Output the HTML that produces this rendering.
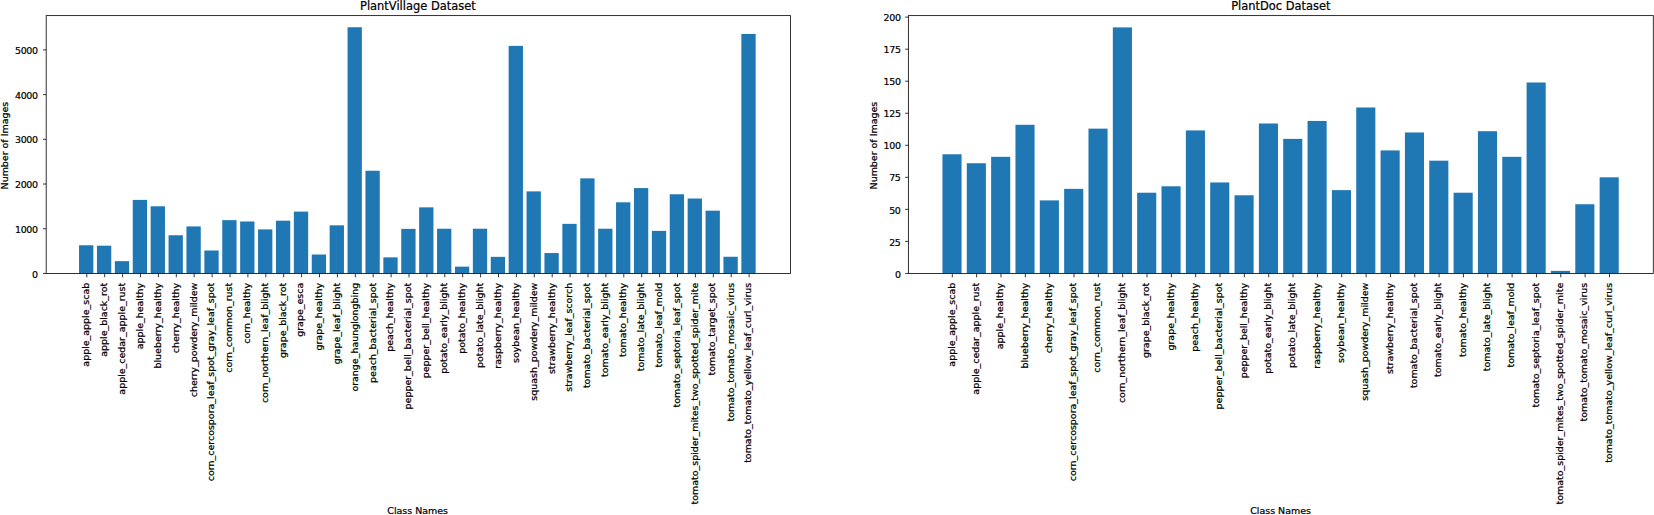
<!DOCTYPE html>
<html><head><meta charset="utf-8"><title>Dataset class distribution</title>
<style>
html,body{margin:0;padding:0;background:#fff;}
body{width:1654px;height:515px;overflow:hidden;}
svg{display:block;font-family:'DejaVu Sans','Liberation Sans',sans-serif;fill:#000;}
text{stroke:#000;stroke-width:0.22px;}
</style></head>
<body>
<svg width="1654" height="515" viewBox="0 0 1654 515">
<rect width="1654" height="515" fill="#fff"/>
<g>
<rect x="79.05" y="245.27" width="14.30" height="28.17" fill="#1f77b4"/>
<rect x="96.95" y="245.68" width="14.30" height="27.76" fill="#1f77b4"/>
<rect x="114.85" y="261.15" width="14.30" height="12.29" fill="#1f77b4"/>
<rect x="132.75" y="199.90" width="14.30" height="73.54" fill="#1f77b4"/>
<rect x="150.65" y="206.29" width="14.30" height="67.15" fill="#1f77b4"/>
<rect x="168.55" y="235.26" width="14.30" height="38.18" fill="#1f77b4"/>
<rect x="186.45" y="226.41" width="14.30" height="47.03" fill="#1f77b4"/>
<rect x="204.35" y="250.50" width="14.30" height="22.94" fill="#1f77b4"/>
<rect x="222.25" y="220.15" width="14.30" height="53.29" fill="#1f77b4"/>
<rect x="240.15" y="221.49" width="14.30" height="51.95" fill="#1f77b4"/>
<rect x="258.05" y="229.40" width="14.30" height="44.04" fill="#1f77b4"/>
<rect x="275.95" y="220.68" width="14.30" height="52.76" fill="#1f77b4"/>
<rect x="293.85" y="211.61" width="14.30" height="61.83" fill="#1f77b4"/>
<rect x="311.75" y="254.53" width="14.30" height="18.91" fill="#1f77b4"/>
<rect x="329.65" y="225.33" width="14.30" height="48.11" fill="#1f77b4"/>
<rect x="347.55" y="27.23" width="14.30" height="246.21" fill="#1f77b4"/>
<rect x="365.45" y="170.75" width="14.30" height="102.69" fill="#1f77b4"/>
<rect x="383.35" y="257.35" width="14.30" height="16.09" fill="#1f77b4"/>
<rect x="401.25" y="228.87" width="14.30" height="44.57" fill="#1f77b4"/>
<rect x="419.15" y="207.36" width="14.30" height="66.08" fill="#1f77b4"/>
<rect x="437.05" y="228.73" width="14.30" height="44.71" fill="#1f77b4"/>
<rect x="454.95" y="266.64" width="14.30" height="6.80" fill="#1f77b4"/>
<rect x="472.85" y="228.73" width="14.30" height="44.71" fill="#1f77b4"/>
<rect x="490.75" y="256.85" width="14.30" height="16.59" fill="#1f77b4"/>
<rect x="508.65" y="45.88" width="14.30" height="227.56" fill="#1f77b4"/>
<rect x="526.55" y="191.40" width="14.30" height="82.04" fill="#1f77b4"/>
<rect x="544.45" y="253.05" width="14.30" height="20.39" fill="#1f77b4"/>
<rect x="562.35" y="223.86" width="14.30" height="49.58" fill="#1f77b4"/>
<rect x="580.25" y="178.35" width="14.30" height="95.09" fill="#1f77b4"/>
<rect x="598.15" y="228.73" width="14.30" height="44.71" fill="#1f77b4"/>
<rect x="616.05" y="202.31" width="14.30" height="71.13" fill="#1f77b4"/>
<rect x="633.95" y="188.09" width="14.30" height="85.35" fill="#1f77b4"/>
<rect x="651.85" y="230.88" width="14.30" height="42.56" fill="#1f77b4"/>
<rect x="669.75" y="194.26" width="14.30" height="79.18" fill="#1f77b4"/>
<rect x="687.65" y="198.51" width="14.30" height="74.93" fill="#1f77b4"/>
<rect x="705.55" y="210.67" width="14.30" height="62.77" fill="#1f77b4"/>
<rect x="723.45" y="256.76" width="14.30" height="16.68" fill="#1f77b4"/>
<rect x="741.35" y="33.94" width="14.30" height="239.50" fill="#1f77b4"/>
<rect x="46.20" y="15.60" width="744.30" height="257.84" fill="none" stroke="#111" stroke-width="0.85"/>
<path d="M86.80 273.44v3.9M104.70 273.44v3.9M122.60 273.44v3.9M140.50 273.44v3.9M158.40 273.44v3.9M176.30 273.44v3.9M194.20 273.44v3.9M212.10 273.44v3.9M230.00 273.44v3.9M247.90 273.44v3.9M265.80 273.44v3.9M283.70 273.44v3.9M301.60 273.44v3.9M319.50 273.44v3.9M337.40 273.44v3.9M355.30 273.44v3.9M373.20 273.44v3.9M391.10 273.44v3.9M409.00 273.44v3.9M426.90 273.44v3.9M444.80 273.44v3.9M462.70 273.44v3.9M480.60 273.44v3.9M498.50 273.44v3.9M516.40 273.44v3.9M534.30 273.44v3.9M552.20 273.44v3.9M570.10 273.44v3.9M588.00 273.44v3.9M605.90 273.44v3.9M623.80 273.44v3.9M641.70 273.44v3.9M659.60 273.44v3.9M677.50 273.44v3.9M695.40 273.44v3.9M713.30 273.44v3.9M731.20 273.44v3.9M749.10 273.44v3.9M46.20 273.44h-3.2M46.20 228.73h-3.2M46.20 184.02h-3.2M46.20 139.32h-3.2M46.20 94.61h-3.2M46.20 49.90h-3.2" stroke="#111" stroke-width="0.85" fill="none"/>
<g font-size="9.46" text-anchor="end">
<text transform="translate(89.10 282.8) rotate(-90)">apple_apple_scab</text>
<text transform="translate(107.00 282.8) rotate(-90)">apple_black_rot</text>
<text transform="translate(124.90 282.8) rotate(-90)">apple_cedar_apple_rust</text>
<text transform="translate(142.80 282.8) rotate(-90)">apple_healthy</text>
<text transform="translate(160.70 282.8) rotate(-90)">blueberry_healthy</text>
<text transform="translate(178.60 282.8) rotate(-90)">cherry_healthy</text>
<text transform="translate(196.50 282.8) rotate(-90)">cherry_powdery_mildew</text>
<text transform="translate(214.40 282.8) rotate(-90)">corn_cercospora_leaf_spot_gray_leaf_spot</text>
<text transform="translate(231.70 282.8) rotate(-90)">corn_common_rust</text>
<text transform="translate(250.20 282.8) rotate(-90)">corn_healthy</text>
<text transform="translate(268.10 282.8) rotate(-90)">corn_northern_leaf_blight</text>
<text transform="translate(286.00 282.8) rotate(-90)">grape_black_rot</text>
<text transform="translate(302.90 282.8) rotate(-90)">grape_esca</text>
<text transform="translate(321.80 282.8) rotate(-90)">grape_healthy</text>
<text transform="translate(339.70 282.8) rotate(-90)">grape_leaf_blight</text>
<text transform="translate(357.60 282.8) rotate(-90)">orange_haunglongbing</text>
<text transform="translate(375.50 282.8) rotate(-90)">peach_bacterial_spot</text>
<text transform="translate(393.40 282.8) rotate(-90)">peach_healthy</text>
<text transform="translate(411.30 282.8) rotate(-90)">pepper_bell_bacterial_spot</text>
<text transform="translate(429.20 282.8) rotate(-90)">pepper_bell_healthy</text>
<text transform="translate(447.10 282.8) rotate(-90)">potato_early_blight</text>
<text transform="translate(465.00 282.8) rotate(-90)">potato_healthy</text>
<text transform="translate(482.90 282.8) rotate(-90)">potato_late_blight</text>
<text transform="translate(500.80 282.8) rotate(-90)">raspberry_healthy</text>
<text transform="translate(518.70 282.8) rotate(-90)">soybean_healthy</text>
<text transform="translate(536.60 282.8) rotate(-90)">squash_powdery_mildew</text>
<text transform="translate(554.50 282.8) rotate(-90)">strawberry_healthy</text>
<text transform="translate(572.40 282.8) rotate(-90)">strawberry_leaf_scorch</text>
<text transform="translate(590.30 282.8) rotate(-90)">tomato_bacterial_spot</text>
<text transform="translate(608.20 282.8) rotate(-90)">tomato_early_blight</text>
<text transform="translate(626.10 282.8) rotate(-90)">tomato_healthy</text>
<text transform="translate(644.00 282.8) rotate(-90)">tomato_late_blight</text>
<text transform="translate(661.90 282.8) rotate(-90)">tomato_leaf_mold</text>
<text transform="translate(679.80 282.8) rotate(-90)">tomato_septoria_leaf_spot</text>
<text transform="translate(697.70 282.8) rotate(-90)">tomato_spider_mites_two_spotted_spider_mite</text>
<text transform="translate(715.20 282.8) rotate(-90)">tomato_target_spot</text>
<text transform="translate(733.50 282.8) rotate(-90)">tomato_tomato_mosaic_virus</text>
<text transform="translate(751.40 282.8) rotate(-90)">tomato_tomato_yellow_leaf_curl_virus</text>
<text x="37.70" y="277.59" letter-spacing="-0.35">0</text>
<text x="37.70" y="232.88" letter-spacing="-0.35">1000</text>
<text x="37.70" y="188.17" letter-spacing="-0.35">2000</text>
<text x="37.70" y="143.47" letter-spacing="-0.35">3000</text>
<text x="37.70" y="98.76" letter-spacing="-0.35">4000</text>
<text x="37.70" y="54.05" letter-spacing="-0.35">5000</text>
</g>
<text x="417.85" y="9.7" font-size="11.45" text-anchor="middle">PlantVillage Dataset</text>
<text x="417.65" y="513.75" font-size="9.46" text-anchor="middle">Class Names</text>
<text transform="translate(7.80 145.62) rotate(-90)" font-size="9.46" text-anchor="middle">Number of Images</text>
</g>
<g>
<rect x="942.45" y="154.26" width="19.10" height="119.18" fill="#1f77b4"/>
<rect x="966.79" y="163.23" width="19.10" height="110.21" fill="#1f77b4"/>
<rect x="991.13" y="156.82" width="19.10" height="116.62" fill="#1f77b4"/>
<rect x="1015.47" y="124.79" width="19.10" height="148.65" fill="#1f77b4"/>
<rect x="1039.81" y="200.39" width="19.10" height="73.05" fill="#1f77b4"/>
<rect x="1064.15" y="188.86" width="19.10" height="84.58" fill="#1f77b4"/>
<rect x="1088.49" y="128.63" width="19.10" height="144.81" fill="#1f77b4"/>
<rect x="1112.83" y="27.39" width="19.10" height="246.05" fill="#1f77b4"/>
<rect x="1137.17" y="192.71" width="19.10" height="80.73" fill="#1f77b4"/>
<rect x="1161.51" y="186.30" width="19.10" height="87.14" fill="#1f77b4"/>
<rect x="1185.85" y="130.42" width="19.10" height="143.02" fill="#1f77b4"/>
<rect x="1210.19" y="182.45" width="19.10" height="90.99" fill="#1f77b4"/>
<rect x="1234.53" y="195.27" width="19.10" height="78.17" fill="#1f77b4"/>
<rect x="1258.87" y="123.50" width="19.10" height="149.94" fill="#1f77b4"/>
<rect x="1283.21" y="138.88" width="19.10" height="134.56" fill="#1f77b4"/>
<rect x="1307.55" y="120.94" width="19.10" height="152.50" fill="#1f77b4"/>
<rect x="1331.89" y="190.14" width="19.10" height="83.30" fill="#1f77b4"/>
<rect x="1356.23" y="107.49" width="19.10" height="165.95" fill="#1f77b4"/>
<rect x="1380.57" y="150.42" width="19.10" height="123.02" fill="#1f77b4"/>
<rect x="1404.91" y="132.47" width="19.10" height="140.97" fill="#1f77b4"/>
<rect x="1429.25" y="160.67" width="19.10" height="112.77" fill="#1f77b4"/>
<rect x="1453.59" y="192.71" width="19.10" height="80.73" fill="#1f77b4"/>
<rect x="1477.93" y="131.19" width="19.10" height="142.25" fill="#1f77b4"/>
<rect x="1502.27" y="156.82" width="19.10" height="116.62" fill="#1f77b4"/>
<rect x="1526.61" y="82.50" width="19.10" height="190.94" fill="#1f77b4"/>
<rect x="1550.95" y="270.88" width="19.10" height="2.56" fill="#1f77b4"/>
<rect x="1575.29" y="204.24" width="19.10" height="69.20" fill="#1f77b4"/>
<rect x="1599.63" y="177.33" width="19.10" height="96.11" fill="#1f77b4"/>
<rect x="908.40" y="15.60" width="744.90" height="257.84" fill="none" stroke="#111" stroke-width="0.85"/>
<path d="M952.30 273.44v3.9M976.64 273.44v3.9M1000.98 273.44v3.9M1025.32 273.44v3.9M1049.66 273.44v3.9M1074.00 273.44v3.9M1098.34 273.44v3.9M1122.68 273.44v3.9M1147.02 273.44v3.9M1171.36 273.44v3.9M1195.70 273.44v3.9M1220.04 273.44v3.9M1244.38 273.44v3.9M1268.72 273.44v3.9M1293.06 273.44v3.9M1317.40 273.44v3.9M1341.74 273.44v3.9M1366.08 273.44v3.9M1390.42 273.44v3.9M1414.76 273.44v3.9M1439.10 273.44v3.9M1463.44 273.44v3.9M1487.78 273.44v3.9M1512.12 273.44v3.9M1536.46 273.44v3.9M1560.80 273.44v3.9M1585.14 273.44v3.9M1609.48 273.44v3.9M908.40 273.44h-3.2M908.40 241.40h-3.2M908.40 209.37h-3.2M908.40 177.33h-3.2M908.40 145.29h-3.2M908.40 113.25h-3.2M908.40 81.21h-3.2M908.40 49.18h-3.2M908.40 17.14h-3.2" stroke="#111" stroke-width="0.85" fill="none"/>
<g font-size="9.46" text-anchor="end">
<text transform="translate(954.60 282.8) rotate(-90)">apple_apple_scab</text>
<text transform="translate(978.94 282.8) rotate(-90)">apple_cedar_apple_rust</text>
<text transform="translate(1003.28 282.8) rotate(-90)">apple_healthy</text>
<text transform="translate(1027.62 282.8) rotate(-90)">blueberry_healthy</text>
<text transform="translate(1051.96 282.8) rotate(-90)">cherry_healthy</text>
<text transform="translate(1076.30 282.8) rotate(-90)">corn_cercospora_leaf_spot_gray_leaf_spot</text>
<text transform="translate(1100.04 282.8) rotate(-90)">corn_common_rust</text>
<text transform="translate(1124.98 282.8) rotate(-90)">corn_northern_leaf_blight</text>
<text transform="translate(1149.32 282.8) rotate(-90)">grape_black_rot</text>
<text transform="translate(1173.66 282.8) rotate(-90)">grape_healthy</text>
<text transform="translate(1198.00 282.8) rotate(-90)">peach_healthy</text>
<text transform="translate(1222.34 282.8) rotate(-90)">pepper_bell_bacterial_spot</text>
<text transform="translate(1246.68 282.8) rotate(-90)">pepper_bell_healthy</text>
<text transform="translate(1271.02 282.8) rotate(-90)">potato_early_blight</text>
<text transform="translate(1295.36 282.8) rotate(-90)">potato_late_blight</text>
<text transform="translate(1319.70 282.8) rotate(-90)">raspberry_healthy</text>
<text transform="translate(1344.04 282.8) rotate(-90)">soybean_healthy</text>
<text transform="translate(1368.38 282.8) rotate(-90)">squash_powdery_mildew</text>
<text transform="translate(1392.72 282.8) rotate(-90)">strawberry_healthy</text>
<text transform="translate(1417.06 282.8) rotate(-90)">tomato_bacterial_spot</text>
<text transform="translate(1441.40 282.8) rotate(-90)">tomato_early_blight</text>
<text transform="translate(1465.74 282.8) rotate(-90)">tomato_healthy</text>
<text transform="translate(1490.08 282.8) rotate(-90)">tomato_late_blight</text>
<text transform="translate(1514.42 282.8) rotate(-90)">tomato_leaf_mold</text>
<text transform="translate(1538.76 282.8) rotate(-90)">tomato_septoria_leaf_spot</text>
<text transform="translate(1563.10 282.8) rotate(-90)">tomato_spider_mites_two_spotted_spider_mite</text>
<text transform="translate(1587.44 282.8) rotate(-90)">tomato_tomato_mosaic_virus</text>
<text transform="translate(1611.78 282.8) rotate(-90)">tomato_tomato_yellow_leaf_curl_virus</text>
<text x="900.55" y="277.59" letter-spacing="-0.35">0</text>
<text x="900.55" y="245.55" letter-spacing="-0.35">25</text>
<text x="900.55" y="213.52" letter-spacing="-0.35">50</text>
<text x="900.55" y="181.48" letter-spacing="-0.35">75</text>
<text x="900.55" y="149.44" letter-spacing="-0.35">100</text>
<text x="900.55" y="117.40" letter-spacing="-0.35">125</text>
<text x="900.55" y="85.36" letter-spacing="-0.35">150</text>
<text x="900.55" y="53.33" letter-spacing="-0.35">175</text>
<text x="900.55" y="21.29" letter-spacing="-0.35">200</text>
</g>
<text x="1280.85" y="9.7" font-size="11.45" text-anchor="middle">PlantDoc Dataset</text>
<text x="1280.55" y="513.75" font-size="9.46" text-anchor="middle">Class Names</text>
<text transform="translate(876.70 145.62) rotate(-90)" font-size="9.46" text-anchor="middle">Number of Images</text>
</g>
</svg>
</body></html>
